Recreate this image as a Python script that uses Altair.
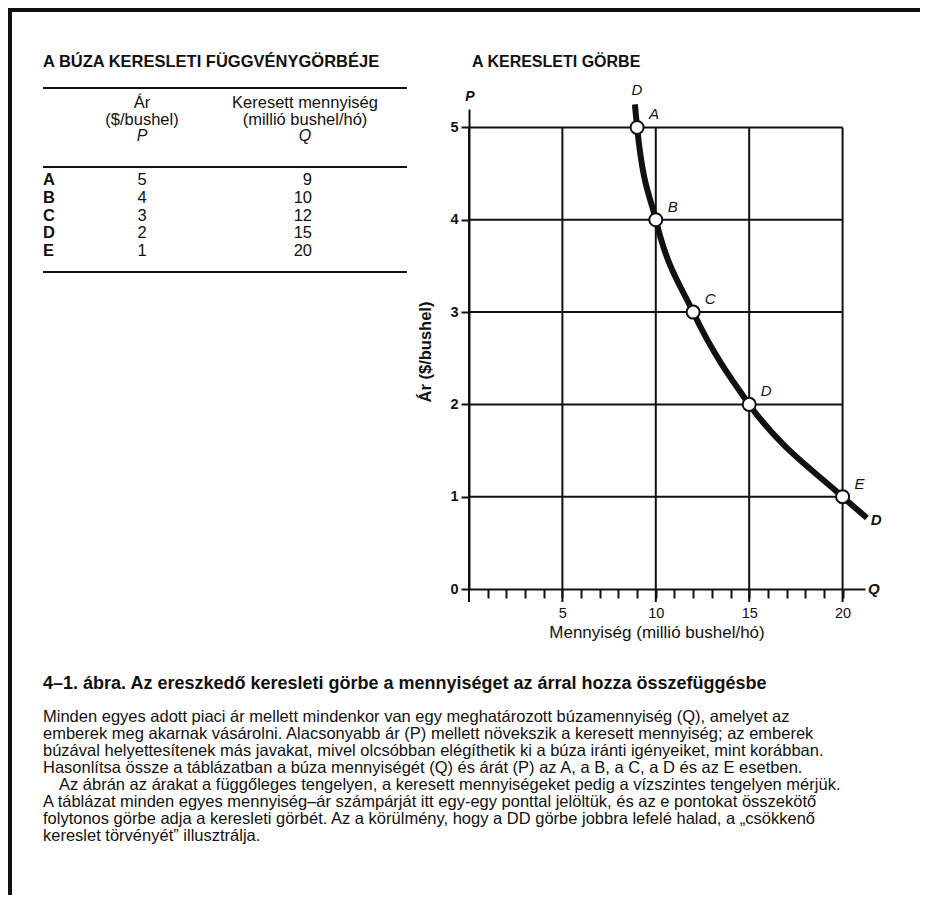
import altair as alt
import pandas as pd

# ---------------- data ----------------
labels = ["A", "B", "C", "D", "E"]
price = [5, 4, 3, 2, 1]          # P ($/bushel)
qty = [9, 10, 12, 15, 20]        # Q (millió bushel/hó)

curve_q = [8.88, 9, 10, 12, 15, 20, 21.3]
curve_p = [5.25, 5, 4, 3, 2, 1, 0.77]

grid_q = [0, 5, 10, 15, 20]
grid_p = [1, 2, 3, 4, 5]
x_ticks = list(range(1, 21))
y_ticks = [0, 1, 2, 3, 4, 5]

table_title = "A BÚZA KERESLETI FÜGGVÉNYGÖRBÉJE"
chart_title = "A KERESLETI GÖRBE"
head_p = ["Ár", "($/bushel)"]
head_q = ["Keresett mennyiség", "(millió bushel/hó)"]
y_title = "Ár ($/bushel)"
x_title = "Mennyiség (millió bushel/hó)"
caption_title = "4–1. ábra. Az ereszkedő keresleti görbe a mennyiséget az árral hozza összefüggésbe"
para1 = [
    "Minden egyes adott piaci ár mellett mindenkor van egy meghatározott búzamennyiség (Q), amelyet az",
    "emberek meg akarnak vásárolni. Alacsonyabb ár (P) mellett növekszik a keresett mennyiség; az emberek",
    "búzával helyettesítenek más javakat, mivel olcsóbban elégíthetik ki a búza iránti igényeiket, mint korábban.",
    "Hasonlítsa össze a táblázatban a búza mennyiségét (Q) és árát (P) az A, a B, a C, a D és az E esetben.",
]
para2_first = "Az ábrán az árakat a függőleges tengelyen, a keresett mennyiségeket pedig a vízszintes tengelyen mérjük."
para2_rest = [
    "A táblázat minden egyes mennyiség–ár számpárját itt egy-egy ponttal jelöltük, és az e pontokat összekötő",
    "folytonos görbe adja a keresleti görbét. Az a körülmény, hogy a DD görbe jobbra lefelé halad, a „csökkenő",
    "kereslet törvényét” illusztrálja.",
]

# ---------------- style ----------------
FONT = "Liberation Sans"
INK = "#111111"
W, H = 396, 480
Q_MAX, P_MAX = 21.2, 5.2
LH = 17  # caption line height

xs = alt.Scale(domain=[0, Q_MAX], nice=False, zero=False)
ys = alt.Scale(domain=[0, P_MAX], nice=False, zero=False)

x_axis = alt.Axis(values=x_ticks, tickSize=9, tickWidth=2, tickColor=INK,
                  domainColor=INK, domainWidth=2, grid=False, title=None,
                  labelExpr="datum.value % 5 === 0 ? datum.label : ''",
                  labelPadding=8, labelFontSize=14.5, labelFont=FONT,
                  labelColor=INK, labelFlush=False, labelOverlap=False)
y_axis = alt.Axis(values=y_ticks, tickSize=8, tickWidth=2, tickColor=INK,
                  domainColor=INK, domainWidth=2, grid=False, title=None,
                  labelPadding=3, labelFontSize=14.5, labelFont=FONT,
                  labelFontWeight="bold",
                  labelColor=INK, labelFlush=False, labelOverlap=False)


def X(f):
    return alt.X(f"{f}:Q", scale=xs, axis=x_axis)


def Y(f):
    return alt.Y(f"{f}:Q", scale=ys, axis=y_axis)


ONE = pd.DataFrame({"k": [0]})


def txt(text, x, y, size=14, weight="normal", style="normal", align="left",
        baseline="middle", angle=0, line_height=17):
    return alt.Chart(ONE).mark_text(
        font=FONT, fontSize=size, fontWeight=weight, fontStyle=style,
        align=align, baseline=baseline, angle=angle, color=INK,
        lineBreak="\n", lineHeight=line_height,
    ).encode(x=alt.value(x), y=alt.value(y), text=alt.value(text))


def hrule(x, x2, y, width=2):
    return alt.Chart(ONE).mark_rule(color=INK, strokeWidth=width).encode(
        x=alt.value(x), x2=alt.value(x2), y=alt.value(y))


def vrule(x, y, y2, width=2):
    return alt.Chart(ONE).mark_rule(color=INK, strokeWidth=width).encode(
        x=alt.value(x), y=alt.value(y), y2=alt.value(y2))


# ---------------- demand chart ----------------
df_pts = pd.DataFrame({"label": labels, "P": price, "Q": qty})
df_curve = pd.DataFrame({"Q": curve_q, "P": curve_p})
df_h = pd.DataFrame({"P": grid_p, "Q": [0] * len(grid_p), "Q2": [grid_q[-1]] * len(grid_p)})
df_v = pd.DataFrame({"Q": grid_q, "P": [max(price)] * len(grid_q)})
df_top = pd.DataFrame({"Q": [curve_q[0]], "P": [curve_p[0]], "t": ["D"]})
df_bot = pd.DataFrame({"Q": [curve_q[-1]], "P": [curve_p[-1]], "t": ["D"]})

hgrid = alt.Chart(df_h).mark_rule(color=INK, strokeWidth=2).encode(
    x=X("Q"), x2="Q2", y=Y("P"))
vgrid = alt.Chart(df_v).mark_rule(color=INK, strokeWidth=2).encode(
    x=X("Q"), y=Y("P"), y2=alt.value(H + 13))
curve = alt.Chart(df_curve).mark_line(
    color=INK, strokeWidth=6, interpolate="monotone", strokeCap="butt").encode(
    x=X("Q"), y=Y("P"), order="Q:Q")
points = alt.Chart(df_pts).mark_point(
    shape="circle", filled=True, fill="white", stroke=INK, strokeWidth=2,
    size=170, opacity=1).encode(x=X("Q"), y=Y("P"))
pt_labels = alt.Chart(df_pts).mark_text(
    font=FONT, fontSize=15, fontStyle="italic", color=INK, dx=17, dy=-13).encode(
    x=X("Q"), y=Y("P"), text="label:N")
top_lab = alt.Chart(df_top).mark_text(
    font=FONT, fontSize=15, fontStyle="italic", color=INK, dx=2, dy=-14).encode(
    x=X("Q"), y=Y("P"), text="t:N")
bot_lab = alt.Chart(df_bot).mark_text(
    font=FONT, fontSize=15, fontStyle="italic", fontWeight="bold", color=INK,
    dx=4, dy=2, align="left").encode(x=X("Q"), y=Y("P"), text="t:N")

main = alt.layer(
    hgrid, vgrid, curve, points, pt_labels, top_lab, bot_lab,
    # axis letters and titles
    txt("P", 1, -12, size=14, weight="bold", style="italic", align="center"),
    txt("Q", W + 3, H, size=15, weight="bold", style="italic", align="left"),
    txt(y_title, -43, 243, size=16.5, weight="bold", align="center", angle=270),
    txt(x_title, 188, 524, size=17, align="center"),
    txt(chart_title, 3, -47, size=16, weight="bold"),
    # table
    txt(table_title, -426, -47, size=16.5, weight="bold"),
    hrule(-426, -62, -21),
    hrule(-426, -62, 58),
    hrule(-426, -62, 163),
    txt("\n".join(head_p), -327, -14, size=16.5, align="center", baseline="top"),
    txt("\n".join(head_q), -164, -14, size=16.5, align="center", baseline="top"),
    txt("P", -327, 27, size=16, style="italic", align="center"),
    txt("Q", -164, 27, size=16, style="italic", align="center"),
    # caption
    txt(caption_title, -426, 575, size=18, weight="bold"),
    txt("\n".join(para1), -426, 600, size=16.5, baseline="top", line_height=LH),
    txt(para2_first, -410, 600 + 4 * LH, size=16.5, baseline="top"),
    txt("\n".join(para2_rest), -426, 600 + 5 * LH, size=16.5, baseline="top", line_height=LH),
    # frame
    hrule(-459, W + 55, -99, width=4),
    vrule(-459, -101, H + 306, width=4),
)

# ---------------- table rows (own y scale) ----------------
df_tab = pd.DataFrame({"i": list(range(len(labels))), "label": labels,
                       "P": price, "Q": qty})
ry = alt.Y("i:Q", scale=alt.Scale(domain=[0, len(labels) - 1], range=[71, 142]),
           axis=None)
rows = alt.layer(
    alt.Chart(df_tab).mark_text(font=FONT, fontSize=16.5, fontWeight="bold",
                                color=INK, align="left").encode(
        x=alt.value(-426), y=ry, text="label:N"),
    alt.Chart(df_tab).mark_text(font=FONT, fontSize=16.5, color=INK,
                                align="center").encode(
        x=alt.value(-327), y=ry, text="P:Q"),
    alt.Chart(df_tab).mark_text(font=FONT, fontSize=16.5, color=INK,
                                align="right").encode(
        x=alt.value(-157), y=ry, text="Q:Q"),
)

chart = alt.layer(main, rows).resolve_scale(y="independent").properties(
    width=W, height=H,
    autosize=alt.AutoSizeParams(type="none"),
    padding={"left": 461, "top": 101, "right": 55, "bottom": 306},
    background="white",
).configure_view(stroke=None)

chart.save("out.html", embed_options={"renderer": "svg", "actions": False})
